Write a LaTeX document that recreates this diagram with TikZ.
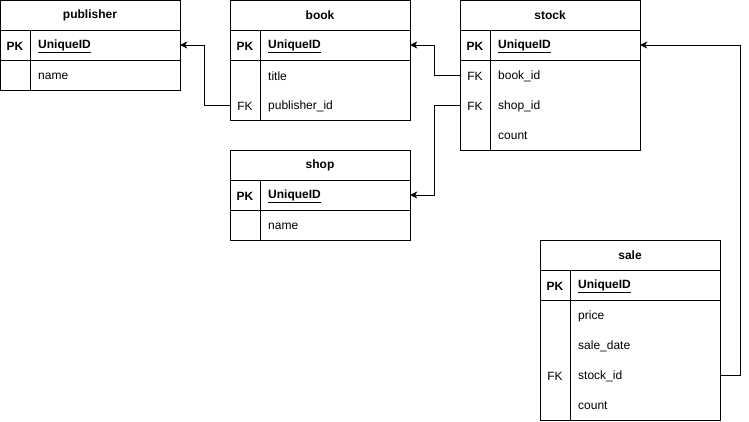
\documentclass[tikz,border=0pt]{standalone}
\usepackage{fontspec}
\setmainfont{Liberation Sans}
\usetikzlibrary{arrows.meta}
\begin{document}
\begin{tikzpicture}[x=1pt,y=-1pt,
  tbl/.style={draw=black,line width=1pt},
  hdr/.style={draw=black,line width=1pt,minimum width=180pt,minimum height=30pt,inner sep=0pt,font=\fontsize{12}{14}\selectfont\bfseries},
  rowbox/.style={minimum width=180pt,minimum height=30pt,inner sep=0pt},
  fld/.style={anchor=west,inner sep=0pt,yshift=-1pt,font=\fontsize{12}{14}\selectfont},
  key/.style={inner sep=0pt,yshift=-1pt,font=\fontsize{12}{14}\selectfont},
  pkey/.style={inner sep=0pt,yshift=-1pt,font=\fontsize{12}{14}\selectfont\bfseries},
  conn/.style={draw=black,line width=1pt,-{Stealth[length=7pt,width=7pt,inset=2pt]}}]
\useasboundingbox (0,0) rectangle (749,421);
\fill[white] (0,0) rectangle (749,421);

% ---- publisher ----
\node[hdr] (pub) at (90,15) {\raisebox{-1pt}{publisher}};
\draw[tbl] (0,30) rectangle (180,90);
\draw[tbl] (0,60) -- (180,60);
\draw[tbl] (30,30) -- (30,90);
\node[rowbox] (pub-pk) at (90,45) {};
\node[rowbox] (pub-name) at (90,75) {};
\node[pkey] at (15,45) {PK};
\node[fld] at (38,45) {\underline{\textbf{UniqueID}}};
\node[fld] at (38,75) {name};

% ---- book ----
\node[hdr] (book) at (320,15) {\raisebox{-1pt}{book}};
\draw[tbl] (230,30) rectangle (410,120);
\draw[tbl] (230,60) -- (410,60);
\draw[tbl] (260,30) -- (260,120);
\node[rowbox] (book-pk) at (320,45) {};
\node[rowbox] (book-title) at (320,75) {};
\node[rowbox] (book-pub) at (320,105) {};
\node[pkey] at (245,45) {PK};
\node[fld] at (268,45) {\underline{\textbf{UniqueID}}};
\node[fld] at (268,75) {title};
\node[key] at (245,105) {FK};
\node[fld] at (268,105) {publisher\_id};

% ---- stock ----
\node[hdr] (stock) at (550,15) {\raisebox{-1pt}{stock}};
\draw[tbl] (460,30) rectangle (640,150);
\draw[tbl] (460,60) -- (640,60);
\draw[tbl] (490,30) -- (490,150);
\node[rowbox] (stock-pk) at (550,45) {};
\node[rowbox] (stock-book) at (550,75) {};
\node[rowbox] (stock-shop) at (550,105) {};
\node[rowbox] (stock-count) at (550,135) {};
\node[pkey] at (475,45) {PK};
\node[fld] at (498,45) {\underline{\textbf{UniqueID}}};
\node[key] at (475,75) {FK};
\node[fld] at (498,75) {book\_id};
\node[key] at (475,105) {FK};
\node[fld] at (498,105) {shop\_id};
\node[fld] at (498,135) {count};

% ---- shop ----
\node[hdr] (shop) at (320,165) {\raisebox{-1pt}{shop}};
\draw[tbl] (230,180) rectangle (410,240);
\draw[tbl] (230,210) -- (410,210);
\draw[tbl] (260,180) -- (260,240);
\node[rowbox] (shop-pk) at (320,195) {};
\node[rowbox] (shop-name) at (320,225) {};
\node[pkey] at (245,195) {PK};
\node[fld] at (268,195) {\underline{\textbf{UniqueID}}};
\node[fld] at (268,225) {name};

% ---- sale ----
\node[hdr] (sale) at (630,255) {\raisebox{-1pt}{sale}};
\draw[tbl] (540,270) rectangle (720,420);
\draw[tbl] (540,300) -- (720,300);
\draw[tbl] (570,270) -- (570,420);
\node[rowbox] (sale-pk) at (630,285) {};
\node[rowbox] (sale-price) at (630,315) {};
\node[rowbox] (sale-date) at (630,345) {};
\node[rowbox] (sale-stock) at (630,375) {};
\node[rowbox] (sale-count) at (630,405) {};
\node[pkey] at (555,285) {PK};
\node[fld] at (578,285) {\underline{\textbf{UniqueID}}};
\node[fld] at (578,315) {price};
\node[fld] at (578,345) {sale\_date};
\node[key] at (555,375) {FK};
\node[fld] at (578,375) {stock\_id};
\node[fld] at (578,405) {count};

% ---- connectors ----
\draw[conn] (book-pub.west) -- ++(-25,0) |- (pub-pk.east);
\draw[conn] (stock-book.west) -- ++(-25,0) |- (book-pk.east);
\draw[conn] (stock-shop.west) -- ++(-25,0) |- (shop-pk.east);
\draw[conn] (sale-stock.east) -- ++(20,0) |- (stock-pk.east);
\end{tikzpicture}
\end{document}
